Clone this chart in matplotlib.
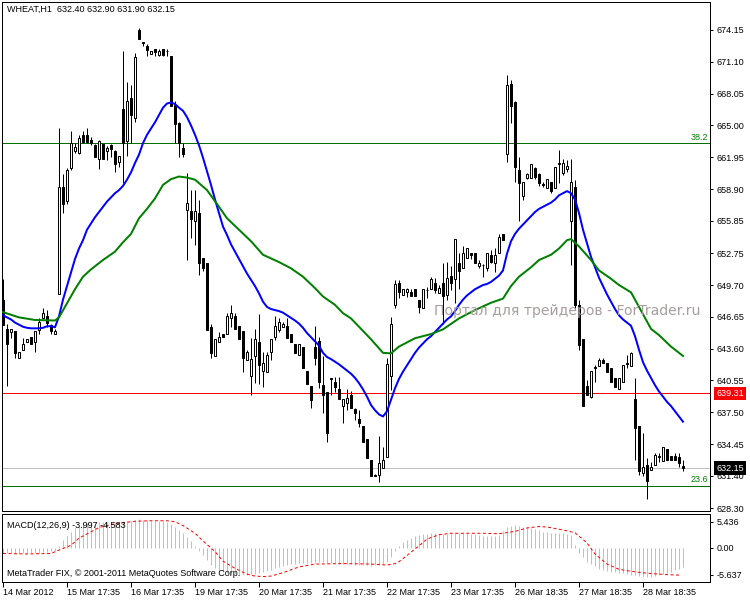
import matplotlib
matplotlib.use('Agg')
import matplotlib.pyplot as plt
import matplotlib.transforms as mtrans
import numpy as np

# ----------------------------- дані графіка ---------------------------------
# WHEAT, H1 : open / high / low / close, 171 свічка
opens = [648.3, 645.5, 645.2, 645.3, 642.7, 643.45, 644.2, 644.7, 644.2, 645.4,
         646.5, 646.75, 645.9, 645.0, 648.8, 659.1, 657.8, 660.9, 662.5, 662.4,
         664.1, 664.1, 663.6, 663.1, 661.75, 663.2, 662.5, 663.1, 662.55, 661.5,
         666.55, 663.55, 667.6, 665.75, 674.15, 672.9, 672.6, 671.8, 672.3, 671.75,
         672.3, 672.1, 671.65, 667.0, 665.25, 662.8, 656.9, 656.8, 655.8, 656.6,
         652.25, 651.8, 645.7, 642.9, 644.2, 645.0, 645.0, 646.5, 646.75, 645.8,
         645.3, 642.5, 641.0, 642.9, 644.2, 641.5, 641.4, 643.25, 644.75, 645.4,
         645.7, 645.8, 645.0, 644.05, 643.0, 643.75, 641.5, 640.0, 643.8, 644.3,
         640.1, 639.4, 640.7, 640.45, 639.7, 638.1, 638.4, 639.15, 637.8, 636.9,
         636.2, 634.9, 632.95, 631.4, 631.5, 632.2, 633.2, 641.0, 647.8, 649.9,
         648.75, 649.0, 649.05, 649.3, 648.3, 647.5, 649.2, 649.3, 649.9, 648.97,
         649.9, 648.75, 650.57, 650.25, 651.85, 651.3, 652.26, 652.8, 652.8, 651.5,
         651.6, 651.3, 652.58, 651.85, 652.74, 654.6, 662.26, 669.0, 667.28, 660.7,
         658.2, 660.0, 660.0, 660.9, 660.34, 659.3, 659.03, 659.6, 659.03, 661.3,
         660.4, 660.8, 655.8, 659.1, 647.8, 644.5, 640.0, 638.95, 641.75, 641.9,
         642.5, 642.26, 641.7, 640.76, 639.7, 640.45, 642.13, 641.95, 638.75, 636.2,
         631.65, 632.45, 631.97, 632.45, 633.25, 632.87, 633.95, 633.3, 633.3, 633.25,
         632.40]
highs = [650.3, 646.0, 645.5, 645.3, 643.3, 644.6, 644.5, 644.7, 645.3, 646.5,
         647.5, 647.3, 646.0, 645.5, 664.8, 660.3, 660.9, 664.5, 663.3, 664.1,
         664.5, 664.8, 663.9, 663.2, 663.6, 663.2, 663.0, 663.2, 662.65, 662.1,
         672.1, 669.15, 668.9, 671.9, 674.3, 673.0, 672.8, 672.15, 672.3, 672.3,
         672.3, 672.3, 671.7, 667.3, 665.3, 663.3, 660.4, 658.8, 658.8, 657.85,
         652.3, 651.8, 646.0, 644.5, 645.2, 645.0, 647.05, 647.8, 647.0, 645.8,
         645.3, 643.5, 644.6, 645.5, 646.9, 643.3, 643.3, 644.5, 646.7, 646.5,
         646.2, 646.5, 645.0, 644.05, 644.05, 643.75, 641.5, 640.0, 645.8, 644.7,
         642.9, 639.4, 640.8, 640.85, 640.9, 638.75, 639.7, 639.5, 637.9, 637.7,
         636.2, 634.9, 632.95, 631.6, 635.2, 634.2, 642.7, 646.6, 650.2, 650.2,
         649.3, 649.45, 649.3, 649.3, 648.3, 649.3, 649.5, 650.5, 650.35, 649.7,
         651.85, 651.94, 651.52, 654.1, 652.75, 653.4, 653.22, 652.8, 652.8, 652.1,
         651.7, 652.8, 653.1, 653.22, 654.6, 654.6, 669.83, 669.35, 667.3, 662.0,
         659.6, 660.45, 661.3, 661.0, 660.4, 659.6, 659.83, 659.6, 661.05, 662.6,
         661.75, 661.7, 661.75, 659.8, 648.3, 644.5, 640.55, 641.5, 642.0, 642.67,
         642.67, 642.26, 641.7, 640.76, 640.76, 642.05, 642.98, 643.3, 640.75, 636.2,
         635.55, 633.1, 632.77, 633.63, 633.57, 634.14, 633.95, 633.3, 633.57, 633.57,
         632.90]
lows = [645.9, 640.0, 644.6, 642.7, 642.7, 643.45, 644.2, 644.0, 643.3, 645.0,
        646.5, 645.7, 645.0, 645.0, 648.8, 656.6, 657.5, 660.7, 662.4, 662.3,
        663.3, 663.3, 663.1, 662.0, 660.8, 661.75, 661.7, 662.0, 660.5, 661.05,
        659.45, 662.1, 663.35, 665.3, 673.3, 672.6, 671.65, 671.8, 671.65, 671.65,
        671.65, 671.65, 666.9, 663.35, 662.0, 662.0, 652.1, 654.2, 653.5, 650.65,
        651.0, 645.4, 642.7, 642.9, 644.2, 644.7, 645.0, 645.7, 645.45, 644.5,
        641.4, 642.5, 639.15, 640.3, 640.2, 639.95, 641.4, 642.5, 644.4, 645.2,
        645.7, 644.65, 644.2, 643.2, 643.0, 641.7, 640.2, 637.9, 642.0, 639.8,
        637.4, 634.7, 639.2, 639.4, 638.75, 636.45, 637.7, 637.95, 636.75, 636.1,
        634.7, 633.1, 631.35, 631.35, 630.85, 632.2, 633.2, 639.6, 647.5, 648.5,
        648.75, 648.6, 648.65, 648.65, 647.05, 647.5, 648.5, 649.3, 648.9, 648.97,
        646.0, 648.27, 649.2, 647.95, 649.3, 651.3, 652.26, 652.2, 651.78, 651.3,
        650.5, 651.08, 651.8, 650.98, 652.74, 654.0, 661.53, 665.2, 659.6, 655.8,
        657.85, 659.9, 660.0, 659.9, 659.2, 659.1, 659.03, 658.5, 658.97, 659.45,
        660.25, 660.57, 651.6, 647.5, 643.5, 638.1, 639.15, 638.9, 640.45, 641.9,
        642.2, 641.4, 640.45, 639.96, 639.7, 640.45, 641.72, 641.95, 632.95, 631.5,
        631.35, 629.15, 631.97, 632.45, 632.77, 632.87, 632.93, 632.93, 632.93, 632.23,
        631.90]
closes = [645.9, 644.0, 645.5, 643.2, 643.3, 644.0, 644.5, 644.0, 645.3, 646.2,
          647.0, 646.05, 645.3, 645.3, 659.1, 657.5, 660.7, 663.3, 662.9, 663.8,
          663.45, 663.4, 663.35, 662.0, 663.5, 661.75, 662.8, 662.75, 661.3, 662.1,
          663.3, 667.35, 666.0, 671.55, 673.3, 672.9, 672.25, 672.15, 672.05, 672.15,
          671.75, 672.1, 666.9, 665.15, 663.3, 662.3, 657.55, 656.0, 656.75, 651.8,
          651.3, 645.4, 643.2, 644.5, 644.7, 644.7, 646.7, 647.0, 645.45, 644.5,
          642.7, 643.25, 642.6, 644.5, 642.0, 642.2, 643.0, 644.5, 645.8, 646.2,
          646.0, 644.65, 644.2, 643.2, 644.05, 641.7, 640.2, 638.7, 642.7, 640.45,
          639.15, 635.5, 640.7, 639.95, 638.75, 638.75, 638.9, 637.95, 637.4, 636.45,
          634.7, 633.1, 631.4, 631.4, 632.6, 632.95, 642.1, 646.0, 649.8, 649.0,
          649.3, 649.3, 648.65, 648.65, 647.6, 649.3, 649.2, 650.25, 649.2, 649.4,
          648.65, 650.35, 649.93, 654.1, 651.0, 652.74, 653.22, 652.6, 651.78, 651.8,
          651.6, 652.74, 651.94, 652.58, 654.27, 654.0, 668.87, 666.85, 661.05, 659.45,
          659.6, 660.35, 661.3, 660.02, 659.5, 659.3, 659.83, 658.7, 661.05, 661.3,
          661.43, 661.1, 659.6, 647.8, 643.95, 638.1, 639.15, 641.5, 641.75, 642.5,
          642.2, 641.4, 640.45, 639.96, 640.76, 642.05, 642.13, 643.2, 635.95, 631.9,
          632.23, 630.95, 632.23, 633.4, 633.25, 634.14, 632.93, 632.93, 632.93, 632.6,
          632.15]

# швидка ковзна середня (синя), значення на кожну свічку
ma_fast = [646.8, 646.6, 646.4, 646.1, 645.9, 645.7, 645.6, 645.55, 645.55, 645.55,
           645.6, 645.75, 645.75, 645.65, 646.7, 648.3, 649.6, 650.9, 652.2, 653.2,
           654.0, 655.0, 655.6, 656.2, 656.7, 657.2, 657.7, 658.1, 658.5, 658.8,
           659.2, 659.8, 660.5, 661.4, 662.2, 663.3, 664.1, 664.7, 665.3, 666.0,
           666.7, 667.1, 667.2, 667.05, 666.7, 666.4, 665.8, 665.0, 664.1, 663.1,
           661.9, 660.6, 659.3, 657.9, 656.6, 655.3, 654.5, 653.6, 652.9, 652.2,
           651.5, 650.8, 650.2, 649.6, 648.9, 648.1, 647.6, 647.4, 647.3, 647.2,
           647.05, 646.8, 646.55, 646.3, 646.0, 645.6, 645.1, 644.7, 644.3, 643.9,
           643.2, 642.8, 642.6, 642.35, 642.1, 641.8, 641.5, 641.2, 640.8, 640.3,
           639.7, 639.0, 638.2, 637.7, 637.3, 637.1, 637.6, 638.7, 639.8, 640.7,
           641.4, 642.0, 642.6, 643.2, 643.7, 644.1, 644.5, 644.8, 645.2, 645.6,
           646.0, 646.4, 646.7, 647.2, 647.8, 648.3, 648.7, 649.0, 649.3, 649.5,
           649.7, 649.8, 650.0, 650.3, 650.6, 651.1, 652.7, 653.9, 654.6, 655.1,
           655.5, 655.9, 656.3, 656.7, 657.0, 657.2, 657.4, 657.6, 657.9, 658.3,
           658.5, 658.7, 658.5, 657.9, 656.6, 655.0, 653.7, 652.4, 651.4, 650.4,
           649.6, 648.8, 648.1, 647.4, 646.8, 646.4, 646.1, 645.8, 644.8, 643.5,
           642.3, 641.5, 640.8, 640.1, 639.5, 639.0, 638.5, 638.1, 637.6, 637.1,
           636.6]

# повільна ковзна середня (зелена), прочитана у вузлових свічках
ma_slow_bar = [0, 4, 8, 13, 14, 16, 18, 20, 22, 25, 28, 30, 32, 34, 36, 38, 40, 42,
               44, 46, 48, 51, 54, 56, 59, 62, 65, 69, 72, 75, 78, 80, 83, 85, 87,
               88, 89, 92, 95, 97, 99, 103, 107, 110, 114, 118, 122, 125, 127, 129,
               132, 134, 137, 139, 141, 142, 144, 147, 149, 152, 154, 157, 159, 162,
               164, 167, 170]
ma_slow = [647.1, 646.6, 646.35, 646.3, 646.6, 647.95, 649.3, 650.5, 651.2, 652.1,
           652.9, 653.8, 654.6, 656.1, 657.0, 658.0, 659.3, 659.85, 660.1, 660.0,
           659.8, 658.8, 657.2, 656.1, 655.0, 653.9, 652.6, 651.9, 651.3, 650.5,
           649.4, 648.6, 647.8, 647.0, 646.5, 646.1, 645.7, 644.5, 643.2, 643.15,
           643.8, 644.6, 645.0, 645.45, 646.5, 647.3, 648.0, 648.4, 649.6, 650.5,
           651.4, 652.1, 652.6, 653.2, 654.0, 654.1, 653.4, 652.1, 651.1, 650.3,
           649.7, 649.0, 647.6, 645.5, 644.9, 643.8, 642.9]

# MACD(12,26,9): гістограма (на кожну свічку) та сигнальна лінія
macd_hist = [-1.1, -1.2, -1.2, -1.2, -1.2, -1.2, -1.2, -1.2, -1.1, -1.0,
             -0.9, -0.8, -0.7, -0.7, 0.3, 1.5, 2.5, 3.3, 4.1, 4.6,
             5.0, 5.2, 5.3, 5.3, 5.4, 5.4, 5.3, 5.3, 5.3, 5.3,
             5.4, 5.6, 5.6, 5.8, 5.9, 5.8, 5.7, 5.6, 5.5, 5.5,
             5.5, 5.4, 5.0, 4.4, 3.7, 3.0, 2.2, 1.3, 0.4, -0.6,
             -1.5, -2.6, -3.6, -4.3, -4.8, -5.1, -5.3, -5.4, -5.5, -5.6,
             -5.6, -5.6, -5.5, -5.4, -5.3, -5.1, -4.9, -4.6, -4.3, -4.0,
             -3.8, -3.6, -3.4, -3.3, -3.2, -3.1, -3.1, -3.1, -3.1, -3.0,
             -3.0, -3.1, -3.2, -3.2, -3.3, -3.3, -3.4, -3.4, -3.5, -3.5,
             -3.6, -3.6, -3.7, -3.6, -3.5, -3.4, -2.9, -1.9, -0.6, 0.4,
             1.2, 1.7, 2.1, 2.4, 2.6, 2.8, 2.9, 3.0, 3.0, 2.9,
             2.9, 2.8, 2.8, 3.0, 3.0, 3.0, 3.0, 2.9, 2.8, 2.6,
             2.5, 2.5, 2.5, 2.5, 2.7, 3.4, 4.2, 4.6, 4.7, 4.6,
             4.4, 4.2, 4.0, 3.8, 3.6, 3.3, 3.2, 3.1, 3.0, 3.0,
             3.0, 2.9, 2.6, 0.5, -1.0, -1.9, -2.9, -3.3, -3.9, -4.4,
             -4.6, -4.8, -5.0, -5.1, -5.2, -5.3, -5.4, -5.6, -5.7, -5.9,
             -6.0, -6.0, -6.0, -5.8, -5.6, -5.4, -5.2, -5.0, -4.7, -4.4,
             -4.0]
signal_bar = [0, 6, 12, 14, 17, 19, 22, 24, 27, 30, 33, 37, 41, 43, 45, 48, 50, 53,
              55, 58, 61, 63, 65, 67, 70, 74, 78, 85, 92, 96, 98, 99, 101, 104, 106,
              109, 112, 120, 124, 128, 131, 134, 136, 138, 141, 143, 146, 148, 151,
              154, 157, 161, 166, 169]
signal = [-1.2, -1.3, -1.2, -0.5, 0.5, 2.0, 3.3, 4.2, 4.8, 5.2, 5.5, 5.6, 5.6, 5.4,
          4.6, 3.0, 1.4, -0.8, -2.8, -4.3, -5.5, -5.9, -6.0, -5.9, -5.2, -4.0, -3.4,
          -3.3, -3.4, -3.6, -3.3, -2.9, -1.6, 0.4, 1.8, 2.7, 3.0, 3.0, 2.9, 3.4, 4.1,
          4.4, 4.3, 4.0, 3.5, 3.1, 1.0, -1.3, -3.4, -4.5, -4.9, -5.3, -5.6, -5.7]

price_ticks = [674.15, 671.10, 668.05, 665.00, 661.95, 658.90, 655.85, 652.75,
               649.70, 646.65, 643.60, 640.55, 637.50, 634.45, 631.40, 628.30]
macd_ticks = [5.436, 0.0, -5.637]
macd_tick_labels = ['5.436', '0.00', '-5.637']
date_bar = [0, 16, 32, 48, 64, 80, 96, 112, 128, 144, 160]
date_labels = ['14 Mar 2012', '15 Mar 17:35', '16 Mar 17:35', '19 Mar 17:35',
               '20 Mar 17:35', '21 Mar 17:35', '22 Mar 17:35', '23 Mar 17:35',
               '26 Mar 18:35', '27 Mar 18:35', '28 Mar 18:35']

fibo_382 = 663.29
fibo_236 = 630.44
level_red = 639.31
last_price = 632.15

# ----------------------------- побудова --------------------------------------
FONT = 'Liberation Sans'
FS = 6.5
W, H = 750, 600
PX = 0.72  # 1 піксель у пунктах


def box(x0, y0, x1, y1):
    return [x0 / W, 1 - y1 / H, (x1 - x0) / W, (y1 - y0) / H]


fig = plt.figure(figsize=(7.5, 6), dpi=100)
ax = fig.add_axes(box(2, 2, 710, 511))
ax2 = fig.add_axes(box(2, 513.5, 710, 582))

n = len(closes)
idx = np.arange(n)
o = np.array(opens)
c = np.array(closes)

# свічки
ax.vlines(idx, lows, highs, color='black', lw=PX, zorder=3)
body_low = np.minimum(o, c)
body_h = np.maximum(np.abs(c - o), 0.05)
fill = ['white' if cc > oo else 'black' for oo, cc in zip(o, c)]
ax.bar(idx, body_h, bottom=body_low, width=0.5, color=fill,
       edgecolor='black', linewidth=PX, zorder=4)

# ковзні середні
ax.plot(idx, ma_fast, color='#0000ff', lw=2 * PX, zorder=5)
ax.plot(ma_slow_bar, ma_slow, color='#008000', lw=2 * PX, zorder=5)

# рівні
ax.axhline(fibo_382, color='#007000', lw=PX, zorder=2)
ax.axhline(fibo_236, color='#007000', lw=PX, zorder=2)
ax.axhline(level_red, color='#ff0000', lw=PX, zorder=2)
ax.axhline(last_price, color='#c0c0c0', lw=PX, zorder=2)
ax.text(176.3, fibo_382 + 0.15, '38.2', color='#008000', ha='right', va='bottom',
        fontsize=FS, family=FONT)
ax.text(176.3, fibo_236 + 0.15, '23.6', color='#008000', ha='right', va='bottom',
        fontsize=FS, family=FONT)

ax.set_xlim(-0.25, 176.75)
ax.set_ylim(628.04, 676.83)
ax.set_xticks([])
ax.yaxis.tick_right()
ax.set_yticks(price_ticks)
ax.set_yticklabels(['%.2f' % v for v in price_ticks], family=FONT, fontsize=FS)
ax.tick_params(axis='y', direction='out', length=2.5, width=PX, pad=2)

# мітки ціни справа
tr = mtrans.blended_transform_factory(ax.transAxes, ax.transData)
ax.text(1.0085, level_red, '%.2f' % level_red, transform=tr, color='white',
        fontsize=FS, family=FONT, va='center', ha='left', zorder=10, clip_on=False,
        bbox=dict(boxstyle='square,pad=0.25', fc='#ff0000', ec='none'))
ax.text(1.0085, last_price, '%.2f' % last_price, transform=tr, color='white',
        fontsize=FS, family=FONT, va='center', ha='left', zorder=10, clip_on=False,
        bbox=dict(boxstyle='square,pad=0.25', fc='black', ec='none'))

ax.text(0.007, 0.985, 'WHEAT,H1  632.40 632.90 631.90 632.15', transform=ax.transAxes,
        fontsize=FS, family=FONT, va='center', ha='left')
ax.text(0.6105, 0.393, 'Портал для трейдеров - ForTrader.ru', transform=ax.transAxes,
        fontsize=10.1, family='DejaVu Sans', color='#a79e9e', va='center', ha='left',
        zorder=6)

# MACD
ax2.vlines(idx, 0, macd_hist, color='#c0c0c0', lw=PX)
ax2.plot(signal_bar, signal, color='#ff0000', lw=PX, ls=(0, (3, 2.5)))
ax2.set_xlim(-0.25, 176.75)
ax2.set_ylim(-7.13, 7.11)
ax2.yaxis.tick_right()
ax2.set_yticks(macd_ticks)
ax2.set_yticklabels(macd_tick_labels, family=FONT, fontsize=FS)
ax2.tick_params(axis='y', direction='out', length=2.5, width=PX, pad=2)
ax2.set_xticks(date_bar)
ax2.set_xticklabels(date_labels, family=FONT, fontsize=FS)
ax2.tick_params(axis='x', direction='out', length=3.5, width=PX, pad=1)
for lbl in ax2.get_xticklabels():
    lbl.set_ha('left')
ax2.text(0.007, 0.83, 'MACD(12,26,9) -3.997 -4.583', transform=ax2.transAxes,
         fontsize=FS, family=FONT, va='center', ha='left')
ax2.text(0.007, 0.13, 'MetaTrader FIX, \u00a9 2001-2011 MetaQuotes Software Corp.',
         transform=ax2.transAxes, fontsize=FS, family=FONT, va='center', ha='left')

for a in (ax, ax2):
    for s in a.spines.values():
        s.set_linewidth(PX)
        s.set_color('black')

fig.savefig('out.png', dpi=100)
